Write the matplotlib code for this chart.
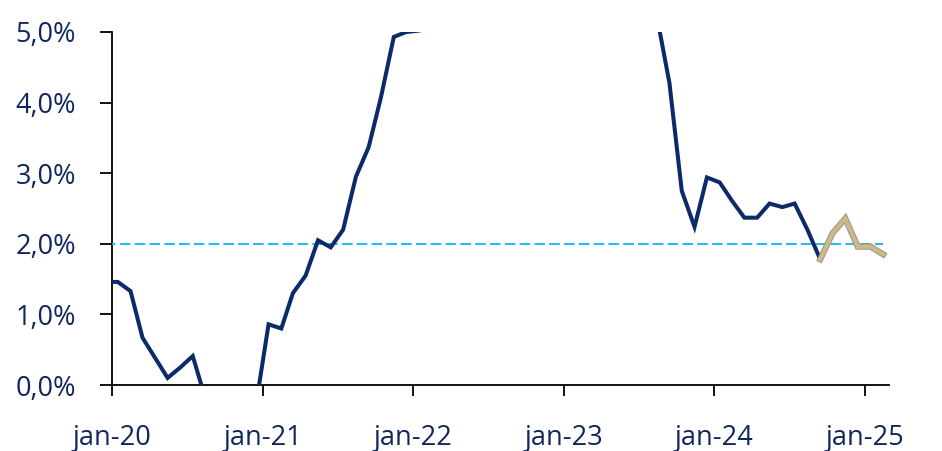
import matplotlib
matplotlib.use("Agg")
import matplotlib.pyplot as plt
import matplotlib.dates as mdates
import matplotlib.patheffects as pe
from matplotlib.ticker import FuncFormatter
import pandas as pd
import numpy as np

# Monthly observations (mid-month), Dec 2019 .. Feb 2025
months = pd.date_range("2019-12-01", "2025-02-01", freq="MS") + pd.Timedelta(days=14)
values = [
    1.46,
    1.46, 1.33, 0.67, 0.38, 0.10, 0.25, 0.41, -0.20, -0.30, -0.30, -0.30, -0.30,
    0.86, 0.80, 1.30, 1.55, 2.05, 1.95, 2.20, 2.95, 3.37, 4.08, 4.93, 5.00,
    5.02, 5.90, 7.40, 7.40, 8.10, 8.60, 8.90, 9.10, 9.90, 10.60, 10.10, 9.20,
    8.60, 8.50, 6.90, 7.00, 6.10, 5.50, 5.30, 5.24, 4.28, 2.75, 2.24, 2.94,
    2.87, 2.60, 2.37, 2.37, 2.57, 2.52, 2.57, 2.20, 1.78, 2.15, 2.36, 1.96,
    1.96, 1.85,
]
split_label = "2024-09"           # last month of the navy series; tan from here on
target = 2.0
tick_dates = ["2020-01-01", "2021-01-01", "2022-01-01", "2023-01-01", "2024-01-01", "2025-01-01"]
tick_labels = ["jan-20", "jan-21", "jan-22", "jan-23", "jan-24", "jan-25"]
y_ticks = [0, 1, 2, 3, 4, 5]

NAVY = "#0A2A68"
TEXT = "#10265C"
TAN = "#C9B98B"
CYAN = "#12B4EE"

plt.rcParams["font.family"] = ["Open Sans", "DejaVu Sans"]

fig = plt.figure(figsize=(9.42, 4.51), dpi=100)
ax = fig.add_axes([112 / 942, 1 - 385 / 451, (889 - 112) / 942, (385 - 32) / 451])

x = mdates.date2num(months.to_pydatetime())
v = np.array(values)
split = int(np.where(months.strftime("%Y-%m") == split_label)[0][0])

ax.plot(x, np.full_like(v, target), color=CYAN, lw=1.3, dashes=(5.9, 2.3), zorder=2)
ax.plot(x[: split + 1], v[: split + 1], color=NAVY, lw=2.9, solid_joinstyle="miter",
        solid_capstyle="butt", zorder=3)
ax.plot(x[split:], v[split:], color=TAN, lw=3.2, solid_joinstyle="miter", zorder=4,
        path_effects=[pe.Stroke(linewidth=4.3, foreground="#8E8875"), pe.Normal()])

ax.set_ylim(0, 5)
ax.set_xlim(mdates.date2num(pd.Timestamp("2020-01-01")), mdates.date2num(pd.Timestamp("2025-03-01")))
ax.set_yticks(y_ticks)
ax.yaxis.set_major_formatter(FuncFormatter(lambda val, pos: f"{val:.1f}%".replace(".", ",")))
ax.set_xticks(mdates.date2num([pd.Timestamp(d) for d in tick_dates]))
ax.set_xticklabels(tick_labels)

for s in ["top", "right"]:
    ax.spines[s].set_visible(False)
for s in ["left", "bottom"]:
    ax.spines[s].set_linewidth(1.3)
    ax.spines[s].set_color("black")
    ax.spines[s].set_zorder(1)

ax.tick_params(axis="y", direction="out", length=9, width=1.3, pad=17, labelsize=19.5,
               labelcolor=TEXT, color="black")
ax.tick_params(axis="x", direction="out", length=8, width=1.3, pad=20, labelsize=19.5,
               labelcolor=TEXT, color="black")

fig.savefig("out.png", dpi=100)
